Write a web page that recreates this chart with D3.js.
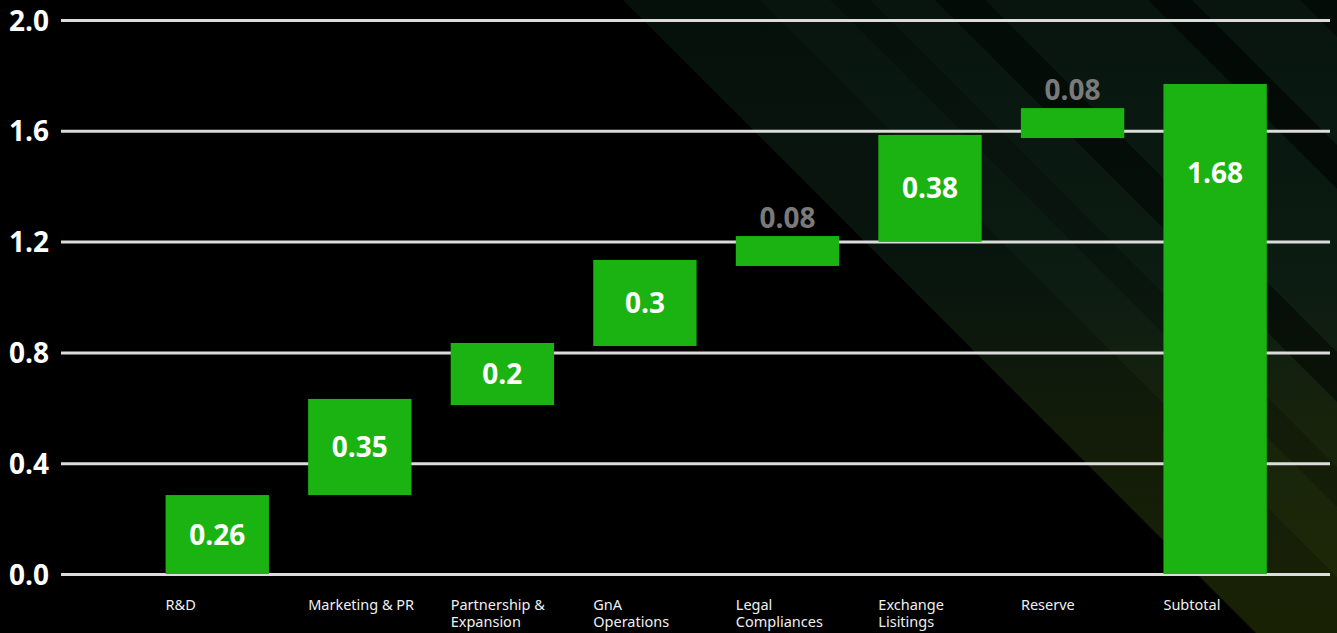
<!DOCTYPE html>
<html>
<head>
<meta charset="utf-8">
<script src="https://cdn.jsdelivr.net/npm/d3@7"></script>
<style>
  html, body { margin: 0; padding: 0; background: #000; overflow: hidden; }
  svg { display: block; }
  .tick text { font-family: "Open Sans", sans-serif; font-weight: 700; font-size: 28px; fill: #fff; }
  .tick line { stroke: #dcdcdc; stroke-width: 3; }
  .cat { font-family: "Noto Sans", sans-serif; font-size: 14.5px; fill: #f0f0f0; }
  .val { font-family: "Open Sans", sans-serif; font-weight: 700; font-size: 28px; }
</style>
</head>
<body>
<script>
// chart data
var categories = ["R&D", "Marketing & PR", "Partnership &\nExpansion", "GnA\nOperations",
                  "Legal\nCompliances", "Exchange\nLisitings", "Reserve", "Subtotal"];
var barStart = [0, 0.285, 0.61, 0.823, 1.112, 1.199, 1.574, 0];
var barEnd = [0.285, 0.632, 0.834, 1.134, 1.22, 1.585, 1.682, 1.769];
var valueLabels = ["0.26", "0.35", "0.2", "0.3", "0.08", "0.38", "0.08", "1.68"];
var yTicks = [0, 0.4, 0.8, 1.2, 1.6, 2.0];

var W = 1337, H = 633;
var gridLeft = 61, gridRight = 1330;

var svg = d3.select("body").append("svg")
    .attr("width", W)
    .attr("height", H);

// background: dark green diagonal band on the right
var defs = svg.append("defs");
var grad = defs.append("linearGradient")
    .attr("id", "bgGrad")
    .attr("x1", 0).attr("y1", 0).attr("x2", 0).attr("y2", 1);
grad.append("stop").attr("offset", "0%").attr("stop-color", "#07150e");
grad.append("stop").attr("offset", "45%").attr("stop-color", "#0c1c12");
grad.append("stop").attr("offset", "70%").attr("stop-color", "#18240b");
grad.append("stop").attr("offset", "100%").attr("stop-color", "#202a06");

svg.append("rect").attr("width", W).attr("height", H).attr("fill", "#000");

// band between x - y = c0 and x - y = c1
function band(c0, c1) {
    return "M" + (c0) + ",0 L" + (c1) + ",0 L" + (c1 + H) + "," + H + " L" + (c0 + H) + "," + H + " Z";
}
svg.append("path").attr("d", band(623, 2200)).attr("fill", "url(#bgGrad)");
svg.append("path").attr("d", band(623, 760)).attr("fill", "#000").attr("opacity", 0.2);
svg.append("path").attr("d", band(830, 870)).attr("fill", "#000").attr("opacity", 0.2);
svg.append("path").attr("d", band(935, 985)).attr("fill", "#000").attr("opacity", 0.45);
svg.append("path").attr("d", band(1148, 1192)).attr("fill", "#000").attr("opacity", 0.55);
svg.append("path").attr("d", band(1300, 1400)).attr("fill", "#000").attr("opacity", 0.4);

var y = d3.scaleLinear()
    .domain([0, 2])
    .range([574, 20]);

var x = d3.scaleBand()
    .domain(d3.range(categories.length))
    .range([146, 1286.4])
    .paddingInner(0.275)
    .paddingOuter(0.1375);

// gridlines + tick labels
var yAxis = svg.append("g")
    .attr("transform", "translate(" + gridLeft + ",0)")
    .call(d3.axisLeft(y)
        .tickValues(yTicks)
        .tickFormat(d3.format(".1f"))
        .tickSize(-(gridRight - gridLeft))
        .tickPadding(12));
yAxis.select(".domain").remove();
yAxis.selectAll(".tick text").attr("dy", "0.36em");

// bars
var bars = svg.append("g").selectAll("g")
    .data(categories)
    .enter().append("g");

bars.append("rect")
    .attr("x", function(d, i) { return x(i); })
    .attr("y", function(d, i) { return y(barEnd[i]); })
    .attr("width", x.bandwidth())
    .attr("height", function(d, i) { return y(barStart[i]) - y(barEnd[i]); })
    .attr("fill", "#1bb311");

function isSmall(i) { return y(barStart[i]) - y(barEnd[i]) < 45; }

// value labels
bars.append("text")
    .classed("val", true)
    .attr("text-anchor", "middle")
    .attr("x", function(d, i) { return x(i) + x.bandwidth() / 2; })
    .attr("y", function(d, i) {
        var top = y(barEnd[i]), bot = y(barStart[i]);
        if (isSmall(i)) return top - 8;
        return Math.min((top + bot) / 2, top + 89);
    })
    .attr("dy", function(d, i) { return isSmall(i) ? 0 : "0.36em"; })
    .attr("fill", function(d, i) { return isSmall(i) ? "#7a7a7a" : "#fff"; })
    .text(function(d, i) { return valueLabels[i]; });

// category labels
var cat = svg.append("g").selectAll("text")
    .data(categories)
    .enter().append("text")
    .classed("cat", true)
    .attr("x", function(d, i) { return x(i); })
    .attr("y", 610);

cat.selectAll("tspan")
    .data(function(d, i) { return d.split("\n").map(function(s) { return {s: s, i: i}; }); })
    .enter().append("tspan")
    .attr("x", function(d) { return x(d.i); })
    .attr("dy", function(d, k) { return k === 0 ? 0 : 17; })
    .text(function(d) { return d.s; });
</script>
</body>
</html>
